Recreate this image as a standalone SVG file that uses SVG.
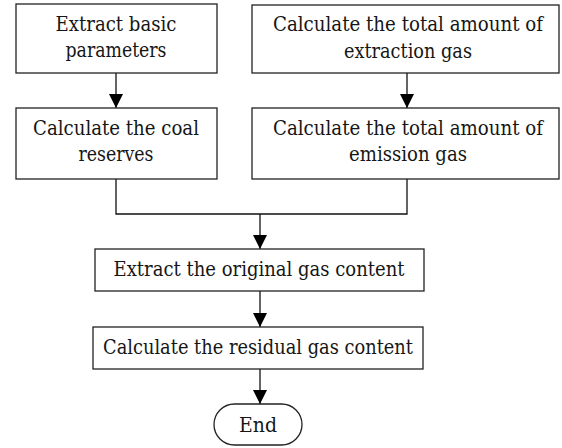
<svg xmlns="http://www.w3.org/2000/svg" width="562" height="448" viewBox="0 0 562 448">
  <defs>
    <marker id="arrow" markerWidth="14" markerHeight="14" refX="14" refY="7" orient="auto" markerUnits="userSpaceOnUse">
      <path d="M0,0 L14,7 L0,14 Z" fill="#000"/>
    </marker>
    <style>
      .box { fill: #fff; stroke: #222; stroke-width: 1.3; }
      .lbl { font-family: "DejaVu Serif Condensed", "DejaVu Serif", "Liberation Serif", serif; font-stretch: condensed; font-size: 21px; fill: #161616; text-anchor: middle; }
      .line { fill: none; stroke: #111; stroke-width: 1.3; }
    </style>
  </defs>
  <rect width="562" height="448" fill="#fff"/>

  <g id="connectors">
    <line class="line" x1="116" y1="73" x2="116" y2="108" marker-end="url(#arrow)"/>
    <line class="line" x1="407" y1="73" x2="407" y2="108" marker-end="url(#arrow)"/>
    <polyline class="line" points="116,179 116,214 407,214 407,179"/>
    <line class="line" x1="260" y1="214" x2="260" y2="249" marker-end="url(#arrow)"/>
    <line class="line" x1="260" y1="291" x2="260" y2="327" marker-end="url(#arrow)"/>
    <line class="line" x1="260" y1="369" x2="260" y2="404" marker-end="url(#arrow)"/>
  </g>

  <g id="extract-basic">
    <rect class="box" x="16" y="4" width="201" height="69"/>
    <text class="lbl" x="116" y="31" textLength="121" lengthAdjust="spacingAndGlyphs">Extract basic</text>
    <text class="lbl" x="116" y="57" textLength="101" lengthAdjust="spacingAndGlyphs">parameters</text>
  </g>

  <g id="extraction-gas">
    <rect class="box" x="252" y="5" width="307" height="68"/>
    <text class="lbl" x="408" y="31" textLength="270" lengthAdjust="spacingAndGlyphs">Calculate the total amount of</text>
    <text class="lbl" x="408" y="58" textLength="128" lengthAdjust="spacingAndGlyphs">extraction gas</text>
  </g>

  <g id="coal-reserves">
    <rect class="box" x="16" y="108" width="201" height="71"/>
    <text class="lbl" x="116" y="135" textLength="166" lengthAdjust="spacingAndGlyphs">Calculate the coal</text>
    <text class="lbl" x="116" y="161" textLength="75" lengthAdjust="spacingAndGlyphs">reserves</text>
  </g>

  <g id="emission-gas">
    <rect class="box" x="252" y="108" width="307" height="71"/>
    <text class="lbl" x="408" y="135" textLength="270" lengthAdjust="spacingAndGlyphs">Calculate the total amount of</text>
    <text class="lbl" x="408" y="161" textLength="118" lengthAdjust="spacingAndGlyphs">emission gas</text>
  </g>

  <g id="original-gas">
    <rect class="box" x="95" y="249" width="329" height="42"/>
    <text class="lbl" x="259" y="276" textLength="291" lengthAdjust="spacingAndGlyphs">Extract the original gas content</text>
  </g>

  <g id="residual-gas">
    <rect class="box" x="93" y="327" width="330" height="42"/>
    <text class="lbl" x="258" y="354" textLength="310" lengthAdjust="spacingAndGlyphs">Calculate the residual gas content</text>
  </g>

  <g id="end">
    <rect class="box" x="214" y="404" width="88" height="41" rx="20.5" ry="20.5"/>
    <text class="lbl" x="258" y="432" textLength="38" lengthAdjust="spacingAndGlyphs">End</text>
  </g>
</svg>
